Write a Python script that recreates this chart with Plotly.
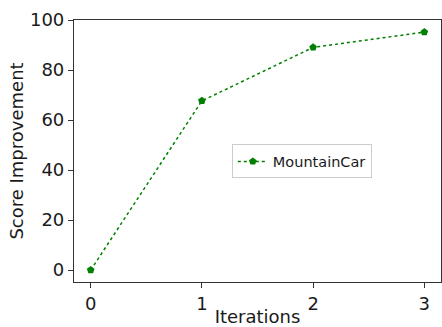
import plotly.graph_objects as go

iterations = [0, 1, 2, 3]
score_improvement = [0, 67.7, 89.1, 95.2]
series_name = "MountainCar"
x_ticks = [0, 1, 2, 3]
y_ticks = [0, 20, 40, 60, 80, 100]

fig = go.Figure()
fig.add_trace(go.Scatter(
    x=iterations, y=score_improvement, name=series_name,
    mode="lines+markers",
    line=dict(color="green", width=1.5, dash="dot"),
    marker=dict(symbol="pentagon", size=8, color="green"),
    showlegend=True,
))

axis_common = dict(
    showline=True, mirror=True, linecolor="#333333", linewidth=1.2,
    ticks="outside", ticklen=5, tickwidth=1.2, tickcolor="#333333",
    showgrid=False, zeroline=False, automargin=False,
    tickfont=dict(family="DejaVu Sans", size=18, color="#1a1a1a"),
)

fig.update_layout(
    width=442, height=327,
    margin=dict(l=74, r=1, t=20, b=45),
    paper_bgcolor="white", plot_bgcolor="white",
    font=dict(family="DejaVu Sans", color="#1a1a1a"),
    xaxis=dict(range=[-0.15, 3.15], tickvals=x_ticks, title=dict(text="Iterations", font=dict(size=18), standoff=6), **axis_common),
    yaxis=dict(range=[-4.77, 100.05], tickvals=y_ticks, title=dict(text="Score Improvement", font=dict(size=18), standoff=1), **axis_common),
    legend=dict(x=0.43, y=0.525, xanchor="left", yanchor="top",
                bordercolor="#cccccc", borderwidth=1, bgcolor="white",
                font=dict(family="DejaVu Sans", size=14.5, color="#1a1a1a"),
                itemwidth=30, tracegroupgap=0),
)

fig.write_html("out.html", config={"displayModeBar": False},
               post_script="document.body.style.margin='0';document.body.style.overflow='hidden';")
